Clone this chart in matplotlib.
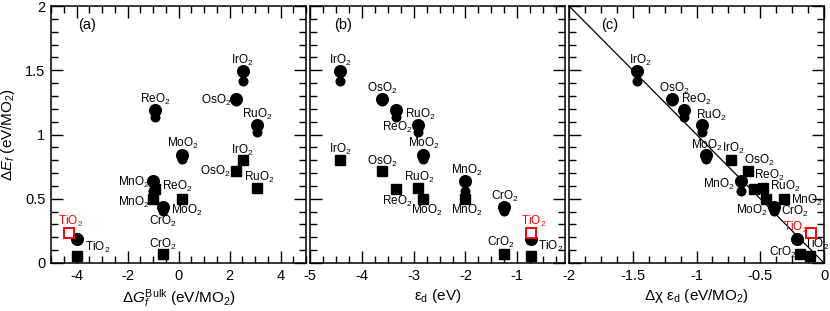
import matplotlib
matplotlib.use("Agg")
import matplotlib.pyplot as plt
from matplotlib.ticker import MultipleLocator, FormatStrFormatter

plt.rcParams['font.family'] = ['Liberation Sans', 'DejaVu Sans']
plt.rcParams['mathtext.fontset'] = 'custom'
plt.rcParams['mathtext.rm'] = 'Liberation Sans'
plt.rcParams['mathtext.it'] = 'Liberation Sans:italic'
plt.rcParams['mathtext.bf'] = 'Liberation Sans:bold'
plt.rcParams['axes.unicode_minus'] = False

# ---------------- data ----------------
oxides = ['IrO2', 'OsO2', 'ReO2', 'RuO2', 'MoO2', 'MnO2', 'CrO2', 'TiO2']
dG_bulk = [2.52, 2.24, -0.92, 3.09, 0.13, -1.01, -0.60, -3.97]
eps_d = [-4.42, -3.61, -3.34, -2.92, -2.82, -2.01, -1.25, -0.74]
chi_eps_circle = [-1.467, -1.191, -1.10, -0.955, -0.929, -0.654, -0.391, -0.215]
chi_eps_square = [-0.727, -0.593, -0.549, -0.475, -0.457, -0.317, -0.187, -0.108]
dE_circle_large = [1.494, 1.274, 1.19, 1.074, 0.84, 0.64, 0.438, 0.184]
dE_circle_small = [1.419, 1.262, 1.134, 1.022, 0.812, 0.56, 0.407, 0.176]
dE_square = [0.80, 0.716, 0.573, 0.581, 0.496, 0.496, 0.068, 0.054]
# TiO2 reference (red open square)
ref_name = 'TiO2'
ref_dG = -4.28
ref_eps = -0.73
ref_chi_eps = -0.102
ref_dE = 0.236

xlabels = ['Δ$G_f^{\\mathrm{Bulk}}$ (eV/MO$_2$)', 'ε$_\\mathrm{d}$ (eV)',
           'Δχ ε$_\\mathrm{d}$ (eV/MO$_2$)']
panel_tags = ['(a)', '(b)', '(c)']

# ---------------- label layout (offsets in pixels) ----------------
lab_a = {
    'circle': {'IrO2': (0, 11, 'center'), 'OsO2': (-4, -1, 'right'), 'ReO2': (0, 11, 'center'),
               'RuO2': (0, 11, 'center'), 'MoO2': (1, 12, 'center'), 'MnO2': (-3, -2, 'right'),
               'CrO2': (0, -15, 'center'), 'TiO2': (8, -8, 'left')},
    'square': {'IrO2': (0, 10, 'center'), 'OsO2': (-5, 0, 'right'), 'ReO2': (7, 3, 'left'),
               'RuO2': (2, 11, 'center'), 'MoO2': (5, -11, 'center'), 'MnO2': (-3, -3, 'right'),
               'CrO2': (0, 10, 'center')},
    'ref': (1, 11, 'center'),
}
lab_b = {
    'circle': {'IrO2': (0, 11, 'center'), 'OsO2': (0, 11, 'center'), 'ReO2': (1, -17, 'center'),
               'RuO2': (2, 11, 'center'), 'MoO2': (1, 12, 'center'), 'MnO2': (2, 10, 'center'),
               'CrO2': (1, 10, 'center'), 'TiO2': (7, -7, 'left')},
    'square': {'IrO2': (0, 11, 'center'), 'OsO2': (0, 10, 'center'), 'ReO2': (1, -12, 'center'),
               'RuO2': (1, 11, 'center'), 'MoO2': (4, -11, 'center'), 'MnO2': (2, -11, 'center'),
               'CrO2': (-3, 12, 'center')},
    'ref': (2, 11, 'center'),
}
lab_c = {
    'circle': {'IrO2': (3, 11, 'center'), 'OsO2': (2, 11, 'center'), 'ReO2': (13, 11, 'center'),
               'RuO2': (9, 10, 'center'), 'MoO2': (1, 10, 'center'), 'MnO2': (-6, -4, 'right'),
               'CrO2': (7, -5, 'left'), 'TiO2': (7, -5, 'left')},
    'square': {'IrO2': (2, 12, 'center'), 'OsO2': (11, 11, 'center'), 'ReO2': (15, 14, 'center'),
               'RuO2': (7, 2, 'left'), 'MoO2': (-14, -11, 'center'), 'MnO2': (7, -1, 'left'),
               'CrO2': (-3, 2, 'right')},
    'ref': (-3, 5, 'right'),
}


def tex(name):
    return name[:-1] + '$_\\mathrm{' + name[-1] + '}$'


fig = plt.figure(figsize=(8.30, 3.11), dpi=100)
W, H = 830.0, 311.0
left_px = [51, 310, 569]
width_px = 255
top_px, bot_px = 6, 263

panels = [
    (dG_bulk, dG_bulk, ref_dG, (-5, 5), 2, 0.5, lab_a),
    (eps_d, eps_d, ref_eps, (-5, -0.08), 1, 0.25, lab_b),
    (chi_eps_circle, chi_eps_square, ref_chi_eps, (-2, 0), 0.5, 0.125, lab_c),
]

for i, (xc, xs, xr, xlim, maj, mnr, labs) in enumerate(panels):
    ax = fig.add_axes([left_px[i] / W, 1 - bot_px / H, width_px / W, (bot_px - top_px) / H])
    ax.set_xlim(*xlim)
    ax.set_ylim(0, 2)
    ax.xaxis.set_major_locator(MultipleLocator(maj))
    ax.xaxis.set_minor_locator(MultipleLocator(mnr))
    ax.yaxis.set_major_locator(MultipleLocator(0.5))
    ax.yaxis.set_minor_locator(MultipleLocator(0.1))
    ax.xaxis.set_major_formatter(FormatStrFormatter('%g'))
    ax.yaxis.set_major_formatter(FormatStrFormatter('%g'))
    ax.tick_params(which='both', direction='in', top=True, right=True, width=1.0, color='black')
    ax.tick_params(which='major', length=8.5, labelsize=10.5, pad=4)
    ax.tick_params(which='minor', length=4.8)
    for s in ax.spines.values():
        s.set_linewidth(1.1)
        s.set_color('black')
    if i > 0:
        ax.tick_params(axis='y', labelleft=False)
    else:
        ax.set_ylabel('Δ$E_f$ (eV/MO$_2$)', fontsize=11, labelpad=6)
    ax.set_xlabel(xlabels[i], fontsize=11, labelpad=3)

    if i == 2:
        ax.plot([-2, 0], [2, 0], color='black', lw=0.9, zorder=2)

    ax.plot(xc, dE_circle_small, 'o', ms=6.2, color='black', mec='black', zorder=4, clip_on=False)
    ax.plot(xc, dE_circle_large, 'o', ms=8.4, color='black', mec='black', zorder=4, clip_on=False)
    ax.plot(xs, dE_square, 's', ms=7.0, color='black', mec='black', zorder=4, clip_on=False)
    ax.plot([xr], [ref_dE], 's', ms=7.6, mfc='white', mec='red', mew=1.4, zorder=5, clip_on=False)

    for j, name in enumerate(oxides):
        if name in labs['circle']:
            dx, dy, ha = labs['circle'][name]
            ax.annotate(tex(name), (xc[j], dE_circle_large[j]), xytext=(dx, dy),
                        textcoords='offset pixels', ha=ha, va='center', fontsize=8.5,
                        zorder=3, annotation_clip=False)
        if name in labs['square']:
            dx, dy, ha = labs['square'][name]
            ax.annotate(tex(name), (xs[j], dE_square[j]), xytext=(dx, dy),
                        textcoords='offset pixels', ha=ha, va='center', fontsize=8.5,
                        zorder=3, annotation_clip=False)
    dx, dy, ha = labs['ref']
    ax.annotate(tex(ref_name), (xr, ref_dE), xytext=(dx, dy), textcoords='offset pixels',
                ha=ha, va='center', fontsize=8.5, color='red', zorder=3, annotation_clip=False)

    ax.text(0.14 if i == 0 else (0.13 if i == 1 else 0.16), 0.925, panel_tags[i],
            transform=ax.transAxes, ha='center', va='center', fontsize=10.5)

fig.savefig('out.png', dpi=100)
